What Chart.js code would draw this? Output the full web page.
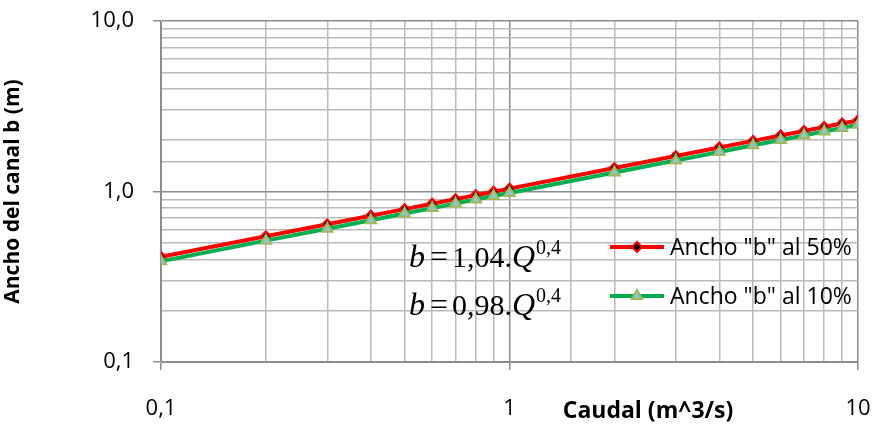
<!DOCTYPE html>
<html>
<head>
<meta charset="utf-8">
<script src="https://cdn.jsdelivr.net/npm/chart.js@4.4.0/dist/chart.umd.min.js"></script>
<style>
  html, body { margin: 0; padding: 0; background: #fff; }
  #wrap { width: 873px; height: 424px; position: relative; }
</style>
</head>
<body>
<div id="wrap"><canvas id="chart"></canvas></div>
<script>
// Caudal Q (m^3/s)
const caudal = [0.1, 0.2, 0.3, 0.4, 0.5, 0.6, 0.7, 0.8, 0.9, 1, 2, 3, 4, 5, 6, 7, 8, 9, 10];
// Ancho "b" al 50% (m)
const ancho50 = [0.414, 0.546, 0.642, 0.721, 0.788, 0.848, 0.902, 0.951, 0.997, 1.04,
                 1.372, 1.614, 1.811, 1.981, 2.130, 2.265, 2.389, 2.504, 2.612];
// Ancho "b" al 10% (m)
const ancho10 = [0.390, 0.515, 0.605, 0.679, 0.743, 0.799, 0.850, 0.897, 0.940, 0.98,
                 1.294, 1.521, 1.706, 1.866, 2.007, 2.134, 2.251, 2.360, 2.462];

const xTickLabels = { '0.1': '0,1', '1': '1', '10': '10' };
const yTickLabels = { '0.1': '0,1', '1': '1,0', '10': '10,0' };
const seriesNames = ['Ancho "b" al 50%', 'Ancho "b" al 10%'];
const coefs = ['1,04.', '0,98.'];

const RED = '#ff0000';
const GREEN = '#00b050';
const MAJOR_GRID = '#8c8c8c';
const MINOR_GRID = '#bababa';

function labelFor(map, v) {
    for (const k in map) {
        if (Math.abs(v - Number(k)) < 1e-9 * Math.max(1, v)) return map[k];
    }
    return '';
}
function isDecade(v) {
    const l = Math.log10(v);
    return Math.abs(l - Math.round(l)) < 1e-6;
}

const toPoints = (ys) => caudal.map((x, i) => ({ x: x, y: ys[i] }));

const overlay = {
    id: 'overlay',
    afterDatasetsDraw(chart) {
        const ctx = chart.ctx;
        ctx.save();

        // legend
        const legendY = [247, 296];
        for (let i = 0; i < 2; i++) {
            const ds = chart.data.datasets[i];
            const y = legendY[i];
            ctx.strokeStyle = ds.borderColor;
            ctx.lineWidth = ds.borderWidth;
            ctx.beginPath();
            ctx.moveTo(610, y);
            ctx.lineTo(664, y);
            ctx.stroke();
            ctx.fillStyle = ds.pointBackgroundColor;
            ctx.strokeStyle = ds.pointBorderColor;
            ctx.lineWidth = ds.pointBorderWidth;
            Chart.helpers.drawPoint(ctx, {
                pointStyle: ds.pointStyle,
                radius: ds.pointRadius,
                borderWidth: ds.pointBorderWidth,
                rotation: 0
            }, 637, y);
            ctx.fillStyle = '#000';
            ctx.font = '23px "Open Sans", sans-serif';
            ctx.textAlign = 'left';
            ctx.textBaseline = 'middle';
            ctx.fillText(seriesNames[i], 670, y + 1);
        }

        // equations b = k.Q^0,4
        ctx.fillStyle = '#000';
        ctx.textBaseline = 'alphabetic';
        ctx.textAlign = 'left';
        const eqY = [267, 315];
        for (let i = 0; i < 2; i++) {
            const y = eqY[i];
            ctx.font = 'italic 32px "Liberation Serif", serif';
            ctx.fillText('b', 409, y);
            ctx.font = '32px "Liberation Serif", serif';
            ctx.fillText('=', 430, y);
            ctx.font = '30px "Liberation Serif", serif';
            ctx.fillText(coefs[i], 452, y);
            let x = 452 + ctx.measureText(coefs[i]).width;
            ctx.font = 'italic 32px "Liberation Serif", serif';
            ctx.fillText('Q', x, y);
            x += ctx.measureText('Q').width + 1;
            ctx.font = '20px "Liberation Serif", serif';
            ctx.fillText('0,4', x, y - 13);
        }

        // x axis title
        ctx.font = 'bold 23px "Open Sans", sans-serif';
        ctx.textAlign = 'center';
        ctx.textBaseline = 'middle';
        ctx.fillText('Caudal (m^3/s)', 648, 411);
        ctx.restore();
    }
};

new Chart(document.getElementById('chart'), {
    type: 'scatter',
    data: {
        datasets: [{
            label: seriesNames[0],
            data: toPoints(ancho50),
            showLine: true,
            borderColor: RED,
            borderWidth: 4,
            pointStyle: 'rectRot',
            pointRadius: 5,
            pointBackgroundColor: '#000000',
            pointBorderColor: RED,
            pointBorderWidth: 2,
            order: 2
        }, {
            label: seriesNames[1],
            data: toPoints(ancho10),
            showLine: true,
            borderColor: GREEN,
            borderWidth: 4,
            pointStyle: 'triangle',
            pointRadius: 6,
            pointBackgroundColor: '#93c3d4',
            pointBorderColor: '#9bbb59',
            pointBorderWidth: 2,
            order: 1
        }]
    },
    options: {
        responsive: true,
        maintainAspectRatio: false,
        animation: false,
        layout: { padding: { top: 21, right: 15, bottom: 0, left: 0 } },
        plugins: {
            legend: { display: false },
            tooltip: { enabled: false }
        },
        scales: {
            x: {
                type: 'logarithmic',
                min: 0.1,
                max: 10,
                border: { color: MAJOR_GRID, width: 1 },
                grid: {
                    color: (c) => (c.tick && isDecade(c.tick.value)) ? MAJOR_GRID : MINOR_GRID,
                    lineWidth: 1.5,
                    tickLength: 8,
                    tickColor: (c) => (c.tick && isDecade(c.tick.value)) ? MAJOR_GRID : 'rgba(0,0,0,0)'
                },
                ticks: {
                    autoSkip: false,
                    maxRotation: 0,
                    padding: 26,
                    color: '#000',
                    font: { family: '"Open Sans", sans-serif', size: 22 },
                    callback: (v) => labelFor(xTickLabels, v)
                },
                afterFit(scale) {
                    scale.height = 62;
                    scale.paddingLeft = 0;
                    scale.paddingRight = 0;
                }
            },
            y: {
                type: 'logarithmic',
                min: 0.1,
                max: 10,
                border: { color: MAJOR_GRID, width: 1 },
                grid: {
                    color: (c) => (c.tick && isDecade(c.tick.value)) ? MAJOR_GRID : MINOR_GRID,
                    lineWidth: 1.5,
                    tickLength: 8,
                    tickColor: (c) => (c.tick && isDecade(c.tick.value)) ? MAJOR_GRID : 'rgba(0,0,0,0)'
                },
                ticks: {
                    autoSkip: false,
                    padding: 19,
                    color: '#000',
                    font: { family: '"Open Sans", sans-serif', size: 22 },
                    callback: (v) => labelFor(yTickLabels, v)
                },
                title: {
                    display: true,
                    text: 'Ancho del canal b (m)',
                    color: '#000',
                    font: { family: '"Open Sans", sans-serif', size: 21, weight: 'bold' },
                    padding: { top: 0, bottom: 1 }
                },
                afterFit(scale) {
                    scale.width = 161;
                    scale.paddingTop = 0;
                    scale.paddingBottom = 0;
                }
            }
        }
    },
    plugins: [overlay]
});
</script>
</body>
</html>
